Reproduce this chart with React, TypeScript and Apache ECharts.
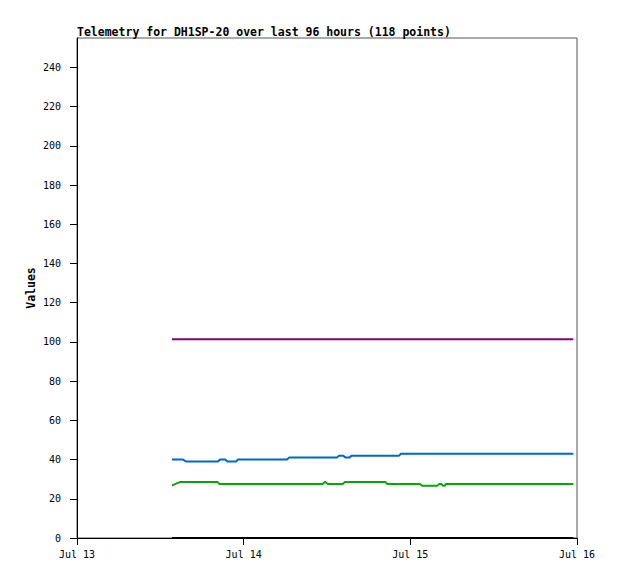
import React, { useEffect, useRef } from "react";
import * as echarts from "echarts";

// Hours since Jul 13 00:00
const xTickLabels = ["Jul 13", "Jul 14", "Jul 15", "Jul 16"];
const xTickHours = [0, 24, 48, 72];
const yTicks = [0, 20, 40, 60, 80, 100, 120, 140, 160, 180, 200, 220, 240];

const purpleHours = [13.68, 71.47];
const purpleValues = [101.4, 101.4];

const blackHours = [13.68, 71.47];
const blackValues = [0, 0];

const blueHours = [13.68, 15.26, 15.7, 20.3, 20.59, 21.36, 21.64, 22.9, 23.14, 30.24, 30.53, 37.44, 37.73, 38.35, 38.69, 39.21, 39.56, 46.37, 46.66, 71.47];
const blueValues = [40, 40, 39, 39, 40, 40, 39, 39, 40, 40, 41, 41, 42, 42, 41, 41, 42, 42, 43, 43];

const greenHours = [13.68, 13.97, 14.26, 14.54, 14.83, 20.26, 20.49, 35.42, 35.64, 35.8, 36.07, 38.3, 38.55, 44.4, 44.69, 49.39, 49.68, 51.88, 52.17, 52.4, 52.75, 52.95, 53.14, 71.47];
const greenValues = [26.8, 27.2, 27.7, 28.1, 28.5, 28.5, 27.6, 27.6, 28.5, 28.5, 27.6, 27.6, 28.5, 28.5, 27.6, 27.6, 26.6, 26.6, 27.6, 27.6, 26.6, 26.6, 27.6, 27.6];

const zip = (xs: number[], ys: number[]) => xs.map((x, i) => [x, ys[i]]);

const FONT = "'DejaVu Sans Mono', 'Liberation Mono', monospace";

export default function App() {
  const ref = useRef<HTMLDivElement>(null);
  useEffect(() => {
    if (!ref.current) return;
    const chart = echarts.init(ref.current, null, { renderer: "svg" });
    const line = (name: string, data: number[][], color: string, z = 3) => ({
      name,
      type: "line",
      data,
      showSymbol: false,
      symbol: "none",
      clip: false,
      lineStyle: { color, width: 2 },
      itemStyle: { color },
      z,
      silent: true,
    });
    chart.setOption({
      animation: false,
      backgroundColor: "#ffffff",
      title: {
        text: "Telemetry for DH1SP-20 over last 96 hours (118 points)",
        left: 77,
        top: 26,
        padding: 0,
        textStyle: { fontFamily: FONT, fontSize: 11.5, fontWeight: "bold", color: "#000" },
      },
      grid: {
        left: 77,
        top: 38,
        width: 500,
        height: 500,
        show: true,
        borderColor: "#555555",
        borderWidth: 1,
        backgroundColor: "transparent",
      },
      xAxis: {
        type: "value",
        min: 0,
        max: 72,
        interval: 24,
        splitLine: { show: false },
        axisLine: { show: true, lineStyle: { color: "#000", width: 1 } },
        axisTick: { show: true, length: 7, inside: false, lineStyle: { color: "#000" }, customValues: xTickHours },
        axisLabel: {
          margin: 11,
          fontFamily: FONT,
          fontSize: 10,
          color: "#000",
          customValues: xTickHours,
          formatter: (v: number) => xTickLabels[xTickHours.indexOf(v)] ?? "",
        },
      },
      yAxis: {
        type: "value",
        min: 0,
        max: 255,
        interval: 20,
        name: "Values",
        nameLocation: "middle",
        nameRotate: 90,
        nameGap: 40,
        nameMoveOverlap: false,
        nameTextStyle: { fontFamily: FONT, fontSize: 11.5, fontWeight: "bold", color: "#000" },
        splitLine: { show: false },
        axisLine: { show: true, lineStyle: { color: "#000", width: 1 } },
        axisTick: { show: true, length: 7, inside: false, lineStyle: { color: "#000" }, customValues: yTicks },
        axisLabel: {
          margin: 16,
          fontFamily: FONT,
          fontSize: 10,
          color: "#000",
          customValues: yTicks,
        },
      },
      series: [
        line("purple", zip(purpleHours, purpleValues), "#800080"),
        line("blue", zip(blueHours, blueValues), "#0066cc"),
        line("green", zip(greenHours, greenValues), "#00aa00"),
        line("black", zip(blackHours, blackValues), "#000000", 5),
      ],
    });
    return () => chart.dispose();
  }, []);
  return (
    <div
      ref={ref}
      style={{ position: "fixed", left: 0, top: 0, width: 618, height: 579, background: "#fff" }}
    />
  );
}
